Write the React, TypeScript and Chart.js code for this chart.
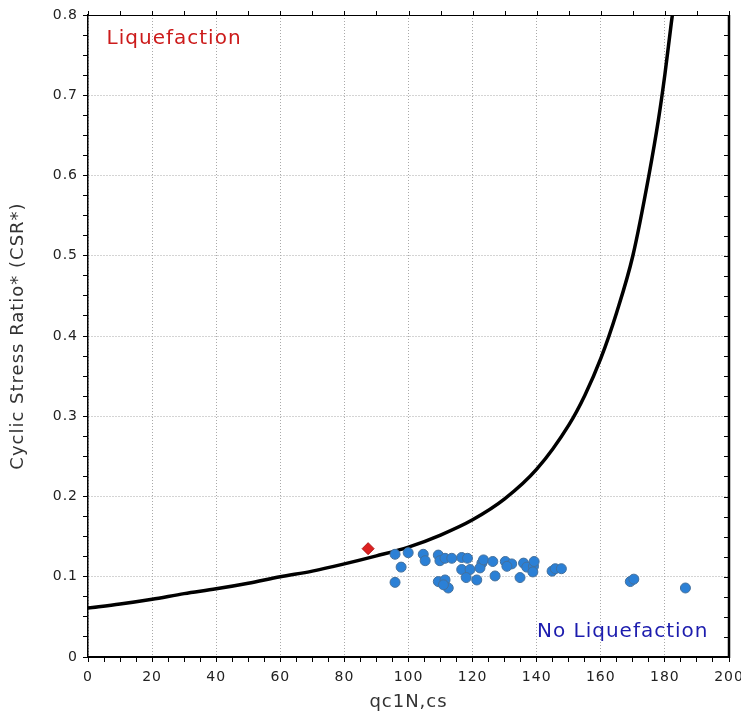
import React, { useEffect, useRef } from 'react';
import { Chart, registerables } from 'chart.js';

Chart.register(...registerables);

// Boundary curve (CRR)
const curveQ = [0, 10, 20, 30, 40, 50, 60, 70, 80, 90, 100, 110, 120, 130, 140, 150, 155, 160, 165, 170, 175, 178, 180, 182, 183];
const curveCSR = [0.061, 0.066, 0.072, 0.079, 0.085, 0.092, 0.1, 0.107, 0.116, 0.126, 0.137, 0.152, 0.171, 0.197, 0.234, 0.289, 0.326, 0.372, 0.43, 0.5, 0.6, 0.67, 0.726, 0.79, 0.82];

// Non-liquefied sites (blue circles)
const siteQ = [95.8, 99.9, 97.7, 95.8, 104.6, 105.2, 109.3, 109.8, 111.4, 113.5, 116.6, 118.4, 116.6, 119.2, 118.0, 121.3, 122.9, 122.3, 109.3, 111.4, 112.4, 110.9, 123.4, 126.3, 127.0, 130.2, 132.2, 130.7, 134.8, 135.9, 136.9, 139.0, 138.8, 139.2, 144.8, 145.8, 147.7, 169.2, 170.3, 186.4];
const siteCSR = [0.128, 0.13, 0.112, 0.093, 0.128, 0.12, 0.127, 0.12, 0.123, 0.123, 0.124, 0.123, 0.109, 0.109, 0.099, 0.096, 0.117, 0.111, 0.094, 0.096, 0.086, 0.09, 0.121, 0.119, 0.101, 0.119, 0.116, 0.113, 0.099, 0.117, 0.112, 0.113, 0.106, 0.119, 0.107, 0.11, 0.11, 0.094, 0.097, 0.086];

// Liquefied site (red diamond)
const liqQ = [87.4];
const liqCSR = [0.135];

// Axes
const X_MIN = 0;
const X_MAX = 200;
const X_MAJOR = 20;
const X_MINOR = 5;
const X_TOP_TICK = 10;
const Y_MIN = 0;
const Y_MAX = 0.8;
const Y_MAJOR = 0.1;
const Y_MINOR = 0.025;

const X_TITLE = 'qc1N,cs';
const Y_TITLE = 'Cyclic Stress Ratio* (CSR*)';
const LABEL_LIQ = 'Liquefaction';
const LABEL_NOLIQ = 'No Liquefaction';
const LABEL_LIQ_AT = { x: 5.8, y: 0.77 };
const LABEL_NOLIQ_AT = { x: 193.6, y: 0.0315 };

const FONT = '"DejaVu Sans", Verdana, sans-serif';

const isMajor = (v: number, major: number, minor: number) => {
  const k = Math.round(v / minor);
  const per = Math.round(major / minor);
  return k % per === 0;
};

const framePlugin = {
  id: 'frame',
  beforeDraw(chart: any) {
    (chart.ctx as any).letterSpacing = '1px';
  },
  afterDraw(chart: any) {
    const { ctx, chartArea: a, scales } = chart;
    const xs = scales.x;
    const ys = scales.y;
    ctx.save();
    ctx.strokeStyle = '#000';
    // top frame line
    ctx.lineWidth = 1;
    ctx.beginPath();
    ctx.moveTo(a.left, a.top + 0.5);
    ctx.lineTo(a.right, a.top + 0.5);
    ctx.stroke();
    // top ticks (outward)
    ctx.beginPath();
    for (let v = X_MIN; v <= X_MAX + 1e-9; v += X_TOP_TICK) {
      const px = Math.round(xs.getPixelForValue(v)) + 0.5;
      ctx.moveTo(px, a.top);
      ctx.lineTo(px, a.top - 4);
    }
    ctx.stroke();
    // right ticks (inward)
    ctx.lineWidth = 1;
    ctx.beginPath();
    for (let i = 0; i <= Math.round((Y_MAX - Y_MIN) / Y_MINOR); i++) {
      const v = Y_MIN + i * Y_MINOR;
      const py = Math.round(ys.getPixelForValue(v)) + 0.5;
      ctx.moveTo(a.right, py);
      ctx.lineTo(a.right - 5, py);
    }
    ctx.stroke();
    // right frame line (thick)
    ctx.lineWidth = 2.5;
    ctx.beginPath();
    ctx.moveTo(a.right, a.top);
    ctx.lineTo(a.right, a.bottom + 1);
    ctx.stroke();

    // zone labels
    ctx.letterSpacing = '1px';
    ctx.font = `20px ${FONT}`;
    ctx.textBaseline = 'middle';
    ctx.fillStyle = '#cc1b1b';
    ctx.textAlign = 'left';
    ctx.fillText(LABEL_LIQ, xs.getPixelForValue(LABEL_LIQ_AT.x), ys.getPixelForValue(LABEL_LIQ_AT.y));
    ctx.fillStyle = '#1c1cae';
    ctx.textAlign = 'right';
    ctx.fillText(LABEL_NOLIQ, xs.getPixelForValue(LABEL_NOLIQ_AT.x), ys.getPixelForValue(LABEL_NOLIQ_AT.y));
    ctx.restore();
  },
};

export default function App() {
  const ref = useRef<HTMLCanvasElement | null>(null);

  useEffect(() => {
    if (!ref.current) return;
    const curve = curveQ.map((q, i) => ({ x: q, y: curveCSR[i] }));
    const sites = siteQ.map((q, i) => ({ x: q, y: siteCSR[i] }));
    const liq = liqQ.map((q, i) => ({ x: q, y: liqCSR[i] }));

    const chart = new Chart(ref.current, {
      type: 'scatter',
      data: {
        datasets: [
          {
            label: 'CRR',
            data: curve,
            showLine: true,
            borderColor: '#000',
            backgroundColor: '#000',
            borderWidth: 3.5,
            pointRadius: 0,
            cubicInterpolationMode: 'monotone',
            clip: 0,
            order: 3,
          } as any,
          {
            label: 'No liquefaction',
            data: sites,
            pointStyle: 'circle',
            pointRadius: 5,
            backgroundColor: '#2b80d6',
            borderColor: '#44709c',
            borderWidth: 1,
            order: 2,
          },
          {
            label: 'Liquefaction',
            data: liq,
            pointStyle: 'rectRot',
            pointRadius: 6,
            backgroundColor: '#dd2020',
            borderColor: '#b01515',
            borderWidth: 1,
            order: 1,
          },
        ],
      },
      options: {
        animation: false,
        responsive: false,
        devicePixelRatio: 1,
        layout: { padding: { left: 0, right: 12, top: 15, bottom: 0 } },
        plugins: {
          legend: { display: false },
          tooltip: { enabled: false },
        },
        scales: {
          x: {
            type: 'linear',
            position: 'bottom',
            min: X_MIN,
            max: X_MAX,
            afterFit: (s: any) => {
              s.height = 56;
              s.paddingLeft = 0;
              s.paddingRight = 0;
            },
            ticks: {
              stepSize: X_MINOR,
              autoSkip: false,
              maxRotation: 0,
              padding: 7,
              color: '#222',
              font: { family: FONT, size: 14 },
              callback: (v: any) => (isMajor(Number(v), X_MAJOR, X_MINOR) ? String(Math.round(Number(v))) : ''),
            },
            grid: {
              color: (c: any) => (c.tick && isMajor(c.tick.value, X_MAJOR, X_MINOR) ? '#a9a9a9' : 'rgba(0,0,0,0)'),
              lineWidth: 1,
              tickColor: '#000',
              tickLength: 5,
              tickWidth: 1,
              tickBorderDash: [],
            },
            border: { display: true, color: '#000', width: 2, dash: [1, 2] },
            title: {
              display: true,
              text: X_TITLE,
              color: '#333',
              font: { family: FONT, size: 18 },
              padding: { top: 0, bottom: 0 },
            },
          },
          y: {
            type: 'linear',
            position: 'left',
            min: Y_MIN,
            max: Y_MAX,
            afterFit: (s: any) => {
              s.width = 88;
              s.paddingTop = 0;
              s.paddingBottom = 0;
            },
            ticks: {
              stepSize: Y_MINOR,
              autoSkip: false,
              padding: 5,
              color: '#222',
              font: { family: FONT, size: 14 },
              callback: (v: any) => {
                const n = Number(v);
                if (!isMajor(n, Y_MAJOR, Y_MINOR)) return '';
                const r = Math.round(n * 10) / 10;
                return r === 0 ? '0' : r.toFixed(1);
              },
            },
            grid: {
              color: (c: any) => (c.tick && isMajor(c.tick.value, Y_MAJOR, Y_MINOR) ? '#a9a9a9' : 'rgba(0,0,0,0)'),
              lineWidth: 1,
              tickColor: '#000',
              tickLength: 5,
              tickWidth: 1,
              tickBorderDash: [],
            },
            border: { display: true, color: '#000', width: 1.5, dash: [1, 2] },
            title: {
              display: true,
              text: Y_TITLE,
              color: '#333',
              font: { family: FONT, size: 18 },
              padding: { top: 8, bottom: 0 },
            },
          },
        },
      } as any,
      plugins: [framePlugin],
    });
    return () => chart.destroy();
  }, []);

  return (
    <div style={{ position: 'absolute', left: 0, top: 0, width: 741, height: 713, background: '#fff' }}>
      <canvas ref={ref} width={741} height={713} style={{ display: 'block', width: 741, height: 713 }} />
    </div>
  );
}
